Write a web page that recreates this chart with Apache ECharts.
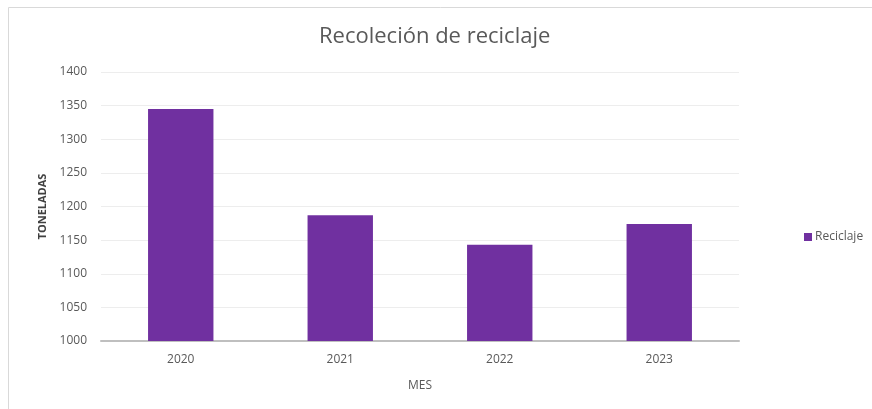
<!DOCTYPE html>
<html>
<head>
<meta charset="utf-8">
<script src="https://cdn.jsdelivr.net/npm/echarts@6/dist/echarts.min.js"></script>
<style>
  html, body { margin: 0; padding: 0; background: #fff; }
  #chart { width: 872px; height: 409px; }
</style>
</head>
<body>
<div id="chart"></div>
<script>
const years = ['2020', '2021', '2022', '2023'];
const reciclaje = [1345, 1187, 1143, 1174];
const yTicks = [1000, 1050, 1100, 1150, 1200, 1250, 1300, 1350, 1400];

const textColor = '#595959';
const font = 'Open Sans';

const chart = echarts.init(document.getElementById('chart'));

chart.setOption({
  animation: false,
  textStyle: {fontFamily: font},
  graphic: [
    {
      type: 'rect',
      shape: {x: 8.5, y: 7.5, width: 880, height: 420},
      style: {fill: 'none', stroke: '#d9d9d9', lineWidth: 1}
    }
  ],
  title: {
    text: 'Recoleción de reciclaje',
    left: 314,
    top: 21,
    textStyle: {
      fontFamily: font,
      fontSize: 22,
      fontWeight: 'normal',
      color: textColor,
      letterSpacing: 1.8
    }
  },
  legend: {
    data: ['Reciclaje'],
    orient: 'vertical',
    left: 799,
    top: 226,
    itemWidth: 8,
    itemHeight: 8,
    itemGap: 4,
    icon: 'rect',
    textStyle: {fontSize: 12, color: textColor, padding: [0, 0, 0, -2]}
  },
  grid: {left: 101, right: 133, top: 72, bottom: 68},
  xAxis: {
    type: 'category',
    data: years,
    name: 'MES',
    nameLocation: 'middle',
    nameGap: 39,
    nameTextStyle: {fontSize: 12, color: textColor},
    axisLine: {lineStyle: {color: '#bfbfbf', width: 2}},
    axisTick: {show: false},
    axisLabel: {fontSize: 12, color: textColor, margin: 13}
  },
  yAxis: {
    type: 'value',
    min: yTicks[0],
    max: yTicks[yTicks.length - 1],
    interval: 50,
    name: 'TONELADAS',
    nameLocation: 'middle',
    nameGap: 50,
    nameTextStyle: {fontSize: 11, fontWeight: 'bold', color: '#404040'},
    axisLine: {show: false},
    axisTick: {show: false},
    axisLabel: {fontSize: 12, color: textColor, margin: 14, formatter: (v) => String(v)},
    splitLine: {lineStyle: {color: '#ededed', width: 1}}
  },
  series: [
    {
      name: 'Reciclaje',
      type: 'bar',
      data: reciclaje,
      barWidth: '41%',
      itemStyle: {color: '#7030a0'}
    }
  ]
});
</script>
</body>
</html>
